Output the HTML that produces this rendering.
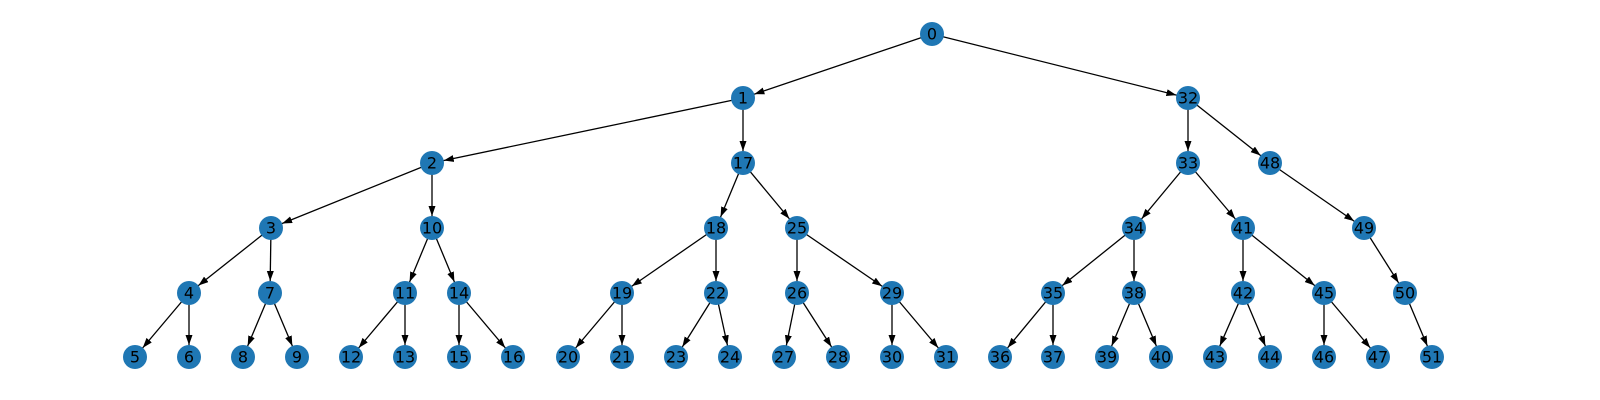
<!DOCTYPE html>
<html><head><meta charset="utf-8"><style>
html,body{margin:0;padding:0;background:#fff;width:1600px;height:400px;overflow:hidden}
text{font-family:"DejaVu Sans","Liberation Sans",sans-serif;font-size:16px;fill:#000;text-anchor:middle;dominant-baseline:central}
line{stroke:#000;stroke-width:1.3}
circle{fill:#1f77b4}
</style></head><body>
<svg width="1600" height="400" xmlns="http://www.w3.org/2000/svg">
<defs><marker id="a" markerUnits="userSpaceOnUse" markerWidth="12" markerHeight="8" refX="22" refY="3.5" orient="auto"><path d="M0,0 L10,3.5 L0,7 z" fill="#000"/></marker></defs>
<g>
<line x1="932" y1="34" x2="743" y2="98" marker-end="url(#a)"/>
<line x1="932" y1="34" x2="1188" y2="98" marker-end="url(#a)"/>
<line x1="743" y1="98" x2="432" y2="163" marker-end="url(#a)"/>
<line x1="743" y1="98" x2="743" y2="163" marker-end="url(#a)"/>
<line x1="432" y1="163" x2="271" y2="228" marker-end="url(#a)"/>
<line x1="432" y1="163" x2="432" y2="228" marker-end="url(#a)"/>
<line x1="271" y1="228" x2="189" y2="293" marker-end="url(#a)"/>
<line x1="271" y1="228" x2="270" y2="293" marker-end="url(#a)"/>
<line x1="189" y1="293" x2="135" y2="357" marker-end="url(#a)"/>
<line x1="189" y1="293" x2="189" y2="357" marker-end="url(#a)"/>
<line x1="270" y1="293" x2="243" y2="357" marker-end="url(#a)"/>
<line x1="270" y1="293" x2="297" y2="357" marker-end="url(#a)"/>
<line x1="432" y1="228" x2="405" y2="293" marker-end="url(#a)"/>
<line x1="432" y1="228" x2="459" y2="293" marker-end="url(#a)"/>
<line x1="405" y1="293" x2="351" y2="357" marker-end="url(#a)"/>
<line x1="405" y1="293" x2="405" y2="357" marker-end="url(#a)"/>
<line x1="459" y1="293" x2="459" y2="357" marker-end="url(#a)"/>
<line x1="459" y1="293" x2="513" y2="357" marker-end="url(#a)"/>
<line x1="743" y1="163" x2="716" y2="228" marker-end="url(#a)"/>
<line x1="743" y1="163" x2="797" y2="228" marker-end="url(#a)"/>
<line x1="716" y1="228" x2="622" y2="293" marker-end="url(#a)"/>
<line x1="716" y1="228" x2="716" y2="293" marker-end="url(#a)"/>
<line x1="622" y1="293" x2="568" y2="357" marker-end="url(#a)"/>
<line x1="622" y1="293" x2="622" y2="357" marker-end="url(#a)"/>
<line x1="716" y1="293" x2="676" y2="357" marker-end="url(#a)"/>
<line x1="716" y1="293" x2="730" y2="357" marker-end="url(#a)"/>
<line x1="797" y1="228" x2="797" y2="293" marker-end="url(#a)"/>
<line x1="797" y1="228" x2="892" y2="293" marker-end="url(#a)"/>
<line x1="797" y1="293" x2="784" y2="357" marker-end="url(#a)"/>
<line x1="797" y1="293" x2="838" y2="357" marker-end="url(#a)"/>
<line x1="892" y1="293" x2="892" y2="357" marker-end="url(#a)"/>
<line x1="892" y1="293" x2="946" y2="357" marker-end="url(#a)"/>
<line x1="1188" y1="98" x2="1188" y2="163" marker-end="url(#a)"/>
<line x1="1188" y1="98" x2="1270" y2="163" marker-end="url(#a)"/>
<line x1="1188" y1="163" x2="1134" y2="228" marker-end="url(#a)"/>
<line x1="1188" y1="163" x2="1243" y2="228" marker-end="url(#a)"/>
<line x1="1134" y1="228" x2="1053" y2="293" marker-end="url(#a)"/>
<line x1="1134" y1="228" x2="1134" y2="293" marker-end="url(#a)"/>
<line x1="1053" y1="293" x2="1000" y2="357" marker-end="url(#a)"/>
<line x1="1053" y1="293" x2="1053" y2="357" marker-end="url(#a)"/>
<line x1="1134" y1="293" x2="1107" y2="357" marker-end="url(#a)"/>
<line x1="1134" y1="293" x2="1161" y2="357" marker-end="url(#a)"/>
<line x1="1243" y1="228" x2="1243" y2="293" marker-end="url(#a)"/>
<line x1="1243" y1="228" x2="1324" y2="293" marker-end="url(#a)"/>
<line x1="1243" y1="293" x2="1215" y2="357" marker-end="url(#a)"/>
<line x1="1243" y1="293" x2="1270" y2="357" marker-end="url(#a)"/>
<line x1="1324" y1="293" x2="1324" y2="357" marker-end="url(#a)"/>
<line x1="1324" y1="293" x2="1378" y2="357" marker-end="url(#a)"/>
<line x1="1270" y1="163" x2="1364" y2="228" marker-end="url(#a)"/>
<line x1="1364" y1="228" x2="1405" y2="293" marker-end="url(#a)"/>
<line x1="1405" y1="293" x2="1432" y2="357" marker-end="url(#a)"/>
</g>
<g>
<circle cx="932" cy="34" r="12"/><text x="932" y="34">0</text>
<circle cx="743" cy="98" r="12"/><text x="743" y="98">1</text>
<circle cx="1188" cy="98" r="12"/><text x="1188" y="98">32</text>
<circle cx="432" cy="163" r="12"/><text x="432" y="163">2</text>
<circle cx="743" cy="163" r="12"/><text x="743" y="163">17</text>
<circle cx="1188" cy="163" r="12"/><text x="1188" y="163">33</text>
<circle cx="1270" cy="163" r="12"/><text x="1270" y="163">48</text>
<circle cx="271" cy="228" r="12"/><text x="271" y="228">3</text>
<circle cx="432" cy="228" r="12"/><text x="432" y="228">10</text>
<circle cx="716" cy="228" r="12"/><text x="716" y="228">18</text>
<circle cx="797" cy="228" r="12"/><text x="797" y="228">25</text>
<circle cx="1134" cy="228" r="12"/><text x="1134" y="228">34</text>
<circle cx="1243" cy="228" r="12"/><text x="1243" y="228">41</text>
<circle cx="1364" cy="228" r="12"/><text x="1364" y="228">49</text>
<circle cx="189" cy="293" r="12"/><text x="189" y="293">4</text>
<circle cx="270" cy="293" r="12"/><text x="270" y="293">7</text>
<circle cx="405" cy="293" r="12"/><text x="405" y="293">11</text>
<circle cx="459" cy="293" r="12"/><text x="459" y="293">14</text>
<circle cx="622" cy="293" r="12"/><text x="622" y="293">19</text>
<circle cx="716" cy="293" r="12"/><text x="716" y="293">22</text>
<circle cx="797" cy="293" r="12"/><text x="797" y="293">26</text>
<circle cx="892" cy="293" r="12"/><text x="892" y="293">29</text>
<circle cx="1053" cy="293" r="12"/><text x="1053" y="293">35</text>
<circle cx="1134" cy="293" r="12"/><text x="1134" y="293">38</text>
<circle cx="1243" cy="293" r="12"/><text x="1243" y="293">42</text>
<circle cx="1324" cy="293" r="12"/><text x="1324" y="293">45</text>
<circle cx="1405" cy="293" r="12"/><text x="1405" y="293">50</text>
<circle cx="135" cy="357" r="12"/><text x="135" y="357">5</text>
<circle cx="189" cy="357" r="12"/><text x="189" y="357">6</text>
<circle cx="243" cy="357" r="12"/><text x="243" y="357">8</text>
<circle cx="297" cy="357" r="12"/><text x="297" y="357">9</text>
<circle cx="351" cy="357" r="12"/><text x="351" y="357">12</text>
<circle cx="405" cy="357" r="12"/><text x="405" y="357">13</text>
<circle cx="459" cy="357" r="12"/><text x="459" y="357">15</text>
<circle cx="513" cy="357" r="12"/><text x="513" y="357">16</text>
<circle cx="568" cy="357" r="12"/><text x="568" y="357">20</text>
<circle cx="622" cy="357" r="12"/><text x="622" y="357">21</text>
<circle cx="676" cy="357" r="12"/><text x="676" y="357">23</text>
<circle cx="730" cy="357" r="12"/><text x="730" y="357">24</text>
<circle cx="784" cy="357" r="12"/><text x="784" y="357">27</text>
<circle cx="838" cy="357" r="12"/><text x="838" y="357">28</text>
<circle cx="892" cy="357" r="12"/><text x="892" y="357">30</text>
<circle cx="946" cy="357" r="12"/><text x="946" y="357">31</text>
<circle cx="1000" cy="357" r="12"/><text x="1000" y="357">36</text>
<circle cx="1053" cy="357" r="12"/><text x="1053" y="357">37</text>
<circle cx="1107" cy="357" r="12"/><text x="1107" y="357">39</text>
<circle cx="1161" cy="357" r="12"/><text x="1161" y="357">40</text>
<circle cx="1215" cy="357" r="12"/><text x="1215" y="357">43</text>
<circle cx="1270" cy="357" r="12"/><text x="1270" y="357">44</text>
<circle cx="1324" cy="357" r="12"/><text x="1324" y="357">46</text>
<circle cx="1378" cy="357" r="12"/><text x="1378" y="357">47</text>
<circle cx="1432" cy="357" r="12"/><text x="1432" y="357">51</text>
</g>
</svg>
</body></html>
